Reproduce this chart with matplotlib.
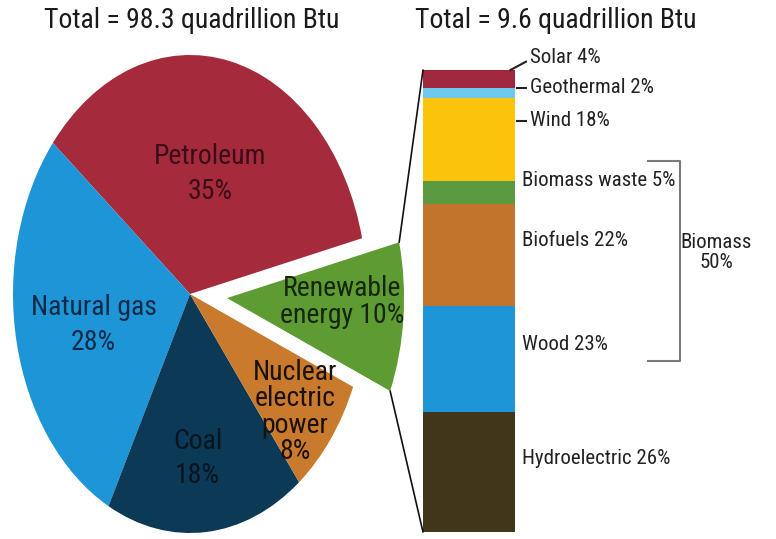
import matplotlib
matplotlib.use("Agg")
import matplotlib.pyplot as plt
from matplotlib import font_manager
from matplotlib.patches import ConnectionPatch
import numpy as np

# ---------------- data ----------------
pie_labels = ["Petroleum", "Natural gas", "Coal", "Nuclear\nelectric\npower", "Renewable\nenergy"]
pie_values = [35, 28, 18, 8, 10]
pie_colors = ["#A52A3C", "#1E95D6", "#0B3956", "#C97A2C", "#5E9B33"]
pie_text_colors = ["#3A0E16", "#0E2A48", "#06151F", "#1A1208", "#16260C"]

bar_labels = ["Hydroelectric", "Wood", "Biofuels", "Biomass waste", "Wind", "Geothermal", "Solar"]
bar_values = [26, 23, 22, 5, 18, 2, 4]
bar_colors = ["#40361A", "#1E95D6", "#C2732C", "#5B9A40", "#FCC30C", "#6CC8EC", "#A0283E"]

title_left = "Total = 98.3 quadrillion Btu"
title_right = "Total = 9.6 quadrillion Btu"
group_label = "Biomass\n50%"

# ---------------- fonts ----------------
names = {f.name for f in font_manager.fontManager.ttflist}
FONT = "Liberation Sans"
for cand in ("Liberation Sans Narrow", "Arial Narrow", "Roboto Condensed", "Archivo Narrow",
             "PT Sans Narrow", "Asap Condensed"):
    if cand in names:
        FONT = cand
        break
plt.rcParams["font.family"] = [FONT, "DejaVu Sans"]

W, H = 776, 539
fig = plt.figure(figsize=(W / 100, H / 100), dpi=100)

# ---------------- pie ----------------
cx_px, cy_px, rx_px, ry_px = 190, 294, 177, 239
left_px, right_px, top_px, bot_px = 0, 420, 40, 539
ax_pie = fig.add_axes([left_px / W, (H - bot_px) / H, (right_px - left_px) / W, (bot_px - top_px) / H])
wedges, _ = ax_pie.pie(pie_values, colors=pie_colors, startangle=13.5, counterclock=True,
                       explode=[0, 0, 0, 0, 0.21], radius=1,
                       wedgeprops=dict(linewidth=0))
ax_pie.set_aspect("auto")
ax_pie.set_xlim((left_px - cx_px) / rx_px, (right_px - cx_px) / rx_px)
ax_pie.set_ylim((cy_px - bot_px) / ry_px, (cy_px - top_px) / ry_px)
ax_pie.axis("off")

# label offsets from each wedge's centre (layout only)
label_off = [(0.113, 0.502), (-0.545, -0.130), (0.042, -0.688), (0.593, -0.494), (0.650, -0.016)]
label_ls = [1.38, 1.42, 1.36, 0.98, 0.98]
for w, lab, val, off, ls, tc in zip(wedges, pie_labels, pie_values, label_off, label_ls, pie_text_colors):
    x = w.center[0] + off[0]
    y = w.center[1] + off[1]
    if "Renewable" in lab:
        txt = f"{lab} {val}%"
    else:
        txt = f"{lab}\n{val}%"
    ax_pie.text(x, y, txt, ha="center", va="center", fontsize=20, color=tc, linespacing=ls)

# ---------------- bar ----------------
bl_px, br_px, bt_px, bb_px = 400, 776, 50, 539
ax_bar = fig.add_axes([bl_px / W, (H - bb_px) / H, (br_px - bl_px) / W, (bb_px - bt_px) / H])
bar_top_px, bar_bot_px = 70, 532
scale = (bar_bot_px - bar_top_px) / 100.0
ax_bar.set_ylim(-(bb_px - bar_bot_px) / scale, 100 + (bar_top_px - bt_px) / scale)
ax_bar.set_xlim(0, 1)
ax_bar.axis("off")
bx0 = (423 - bl_px) / (br_px - bl_px)
bx1 = (515 - bl_px) / (br_px - bl_px)
bw = bx1 - bx0
bottom = 0
seg = {}
for lab, val, col in zip(bar_labels, bar_values, bar_colors):
    ax_bar.bar(bx0, val, width=bw, bottom=bottom, color=col, align="edge", linewidth=0)
    seg[lab] = (bottom, bottom + val)
    bottom += val
total = bottom

txt_x = (522 - bl_px) / (br_px - bl_px)
txt_x2 = (530 - bl_px) / (br_px - bl_px)
fs_bar = 15
tcol = "#222222"
label_y = {}
for lab, val in zip(bar_labels, bar_values):
    lo, hi = seg[lab]
    if lab == "Solar":
        y = hi + 2.8
    elif lab == "Geothermal":
        y = (lo + hi) / 2 + 1.2
    elif lab == "Wind":
        y = hi - 5
    elif lab == "Biomass waste":
        y = (lo + hi) / 2 + 2.5
    else:
        y = (lo + hi) / 2 + 3.0
    label_y[lab] = y
    x = txt_x2 if lab in ("Solar", "Geothermal", "Wind") else txt_x
    ax_bar.text(x, y, f"{lab} {val}%", ha="left", va="center", fontsize=fs_bar, color=tcol)

# leader lines
dash0 = (517 - bl_px) / (br_px - bl_px)
dash1 = (526 - bl_px) / (br_px - bl_px)
ax_bar.plot([bx1 - 0.012, dash1], [seg["Solar"][1], label_y["Solar"] - 1.0], color="#222222", lw=1.5)
for lab in ("Geothermal", "Wind"):
    ax_bar.plot([dash0, dash1], [label_y[lab], label_y[lab]], color="#222222", lw=1.5)

# bracket for biomass
brx0 = (648 - bl_px) / (br_px - bl_px)
brx1 = (680 - bl_px) / (br_px - bl_px)
b_top = label_y["Biomass waste"] + 4.3
b_bot = label_y["Wood"] - 3.5
ax_bar.plot([brx0, brx1, brx1, brx0], [b_top, b_top, b_bot, b_bot], color="#7A7A7A", lw=1.5)
ax_bar.text((716 - bl_px) / (br_px - bl_px), (b_top + b_bot) / 2 + 1.8, group_label, ha="center",
            va="center", fontsize=fs_bar, color=tcol, linespacing=1.05)

# ---------------- connectors ----------------
ren = wedges[-1]
for ang, ybar in ((ren.theta2, total), (ren.theta1, 0)):
    a = np.deg2rad(ang)
    pA = (ren.center[0] + ren.r * np.cos(a), ren.center[1] + ren.r * np.sin(a))
    con = ConnectionPatch(xyA=pA, coordsA=ax_pie.transData, xyB=(bx0, ybar), coordsB=ax_bar.transData,
                          color="#111111", lw=1.2)
    fig.add_artist(con)

# ---------------- titles ----------------
fig.text(192 / W, 1 - 20 / H, title_left, ha="center", va="center", fontsize=20, color="#1A1A1A")
fig.text(556 / W, 1 - 20 / H, title_right, ha="center", va="center", fontsize=20, color="#1A1A1A")

fig.savefig("out.png", dpi=100, facecolor="white")
